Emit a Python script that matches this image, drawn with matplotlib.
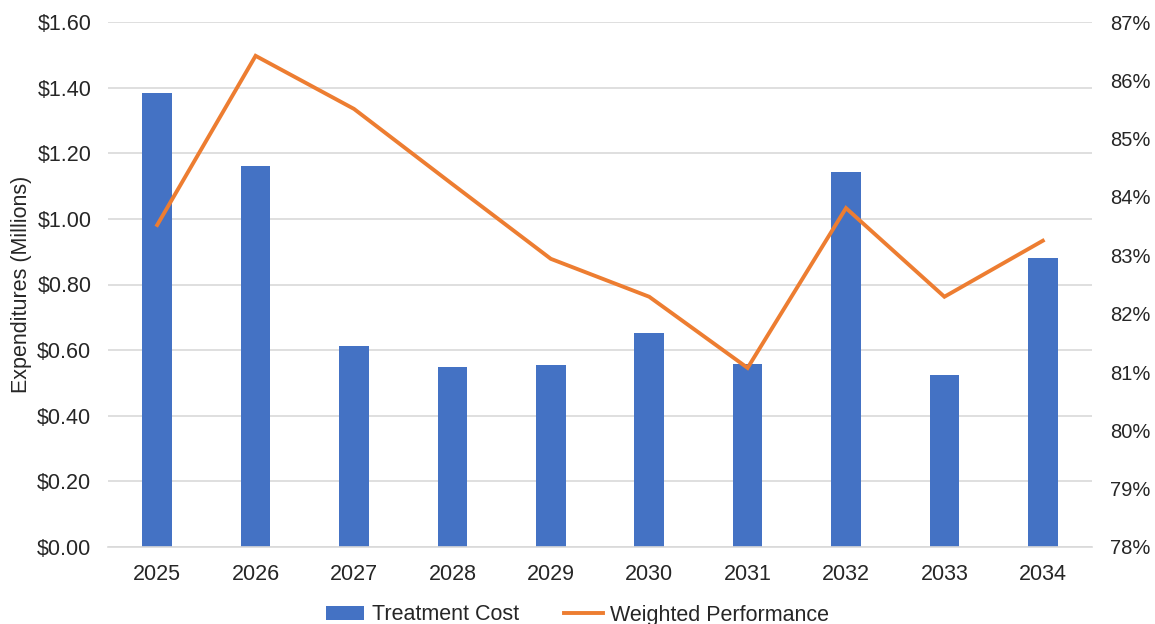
import matplotlib.pyplot as plt
import numpy as np
from matplotlib.ticker import FuncFormatter

plt.rcParams['font.family'] = ['Liberation Sans', 'DejaVu Sans']

years = ['2025', '2026', '2027', '2028', '2029', '2030', '2031', '2032', '2033', '2034']
treatment_cost = [1.384, 1.161, 0.613, 0.549, 0.555, 0.652, 0.558, 1.143, 0.524, 0.881]  # $ millions
weighted_perf = [83.52, 86.42, 85.51, 84.22, 82.94, 82.29, 81.07, 83.81, 82.29, 83.25]  # %

blue = '#4472C4'
orange = '#ED7D31'
grid = '#D9D9D9'
txt = '#262626'
fs = 15.5

fig = plt.figure(figsize=(11.55, 6.24), dpi=100)
ax1 = fig.add_axes([108 / 1155, 1 - 547 / 624, 984 / 1155, 525 / 624])
x = np.arange(len(years))

ax1.bar(x, treatment_cost, width=0.3, color=blue, label='Treatment Cost', zorder=2)
ax1.set_xlim(-0.5, len(years) - 0.5)
ax1.set_ylim(0, 1.6)
ax1.set_yticks(np.arange(0, 1.61, 0.2))
ax1.yaxis.set_major_formatter(FuncFormatter(lambda v, p: '${:.2f}'.format(v)))
ax1.set_xticks(x)
ax1.set_xticklabels(years)
ax1.grid(axis='y', color=grid, linewidth=1.2, zorder=0)
ax1.set_axisbelow(True)
for s in ['top', 'right', 'left']:
    ax1.spines[s].set_visible(False)
ax1.spines['bottom'].set_color(grid)
ax1.spines['bottom'].set_linewidth(1.2)
ax1.tick_params(length=0, labelsize=fs, labelcolor=txt)
ax1.tick_params(axis='x', pad=12)
ax1.tick_params(axis='y', pad=12)
ax1.set_ylabel('Expenditures (Millions)', fontsize=fs, color=txt, labelpad=4)

ax2 = ax1.twinx()
ax2.plot(x, weighted_perf, color=orange, linewidth=2.8, label='Weighted Performance',
         solid_joinstyle='miter', zorder=3)
ax2.set_ylim(78, 87)
ax2.set_yticks(range(78, 88))
ax2.yaxis.set_major_formatter(FuncFormatter(lambda v, p: '{:.0f}%'.format(v)))
for s in ['top', 'right', 'left', 'bottom']:
    ax2.spines[s].set_visible(False)
ax2.tick_params(length=0, labelsize=14.5, labelcolor=txt, pad=13)

h1, l1 = ax1.get_legend_handles_labels()
h2, l2 = ax2.get_legend_handles_labels()
fig.legend(h1 + h2, l1 + l2, loc='center', bbox_to_anchor=(0.5, 1 - 615 / 624),
           ncol=2, frameon=False, fontsize=fs, handlelength=1.8, handleheight=0.6,
           handletextpad=0.35, columnspacing=2.1, labelcolor=txt)

fig.savefig('out.png', dpi=100)
